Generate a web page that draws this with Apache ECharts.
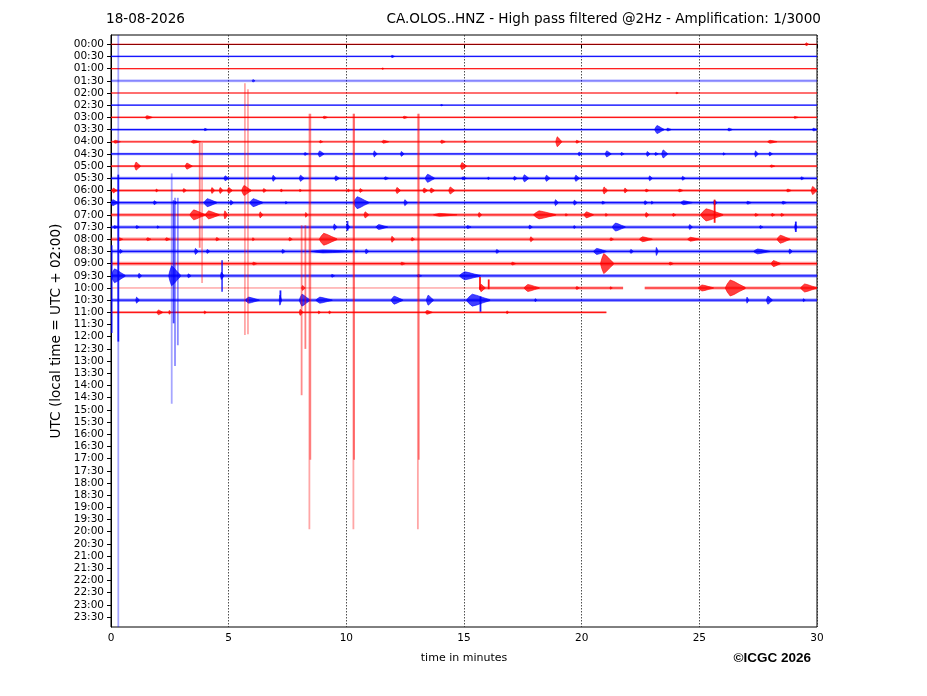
<!DOCTYPE html>
<html><head><meta charset="utf-8">
<script src="https://cdn.jsdelivr.net/npm/echarts@6/dist/echarts.min.js"></script>
<style>html,body{margin:0;padding:0;background:#fff}#c{width:927px;height:696px}</style>
</head><body><div id="c"></div>
<script>
// ---------------- DATA ----------------
const dateLabel = '18-08-2026';
const titleText = 'CA.OLOS..HNZ - High pass filtered @2Hz - Amplification: 1/3000';
const copyrightText = '©ICGC 2026';
const xAxisName = 'time in minutes';
const yAxisName = 'UTC (local time = UTC + 02:00)';
const xTicks = [0, 5, 10, 15, 20, 25, 30];
const rowLabels = ['00:00','00:30','01:00','01:30','02:00','02:30','03:00','03:30','04:00','04:30',
  '05:00','05:30','06:00','06:30','07:00','07:30','08:00','08:30','09:00','09:30','10:00','10:30',
  '11:00','11:30','12:00','12:30','13:00','13:30','14:00','14:30','15:00','15:30','16:00','16:30',
  '17:00','17:30','18:00','18:30','19:00','19:30','20:00','20:30','21:00','21:30','22:00','22:30',
  '23:00','23:30'];
const rowIndex = rowLabels.map((l, i) => i);

// trace segments: [row, startMin, endMin, noise half-amplitude (rows), opacity]
const traceSegments = [
  [0,0,30,0.06,0.55],[1,0,30,0.06,0.85],[2,0,30,0.06,0.8],[3,0,30,0.12,0.45],
  [4,0,30,0.06,0.8],[5,0,30,0.06,0.85],[6,0,30,0.08,0.85],[7,0,30,0.08,0.9],
  [8,0,30,0.1,0.8],[9,0,30,0.1,0.9],[10,0,30,0.09,0.85],[11,0,30,0.12,0.9],
  [12,0,30,0.12,0.85],[13,0,30,0.14,0.9],[14,0,30,0.13,0.85],[15,0,30,0.13,0.9],
  [16,0,30,0.14,0.85],[17,0,30,0.15,0.9],[18,0,30,0.15,0.9],[19,0,30,0.14,0.9],
  [20,0,15.66,0.05,0.35],[20,15.66,21.76,0.12,0.9],[20,22.68,30,0.12,0.9],
  [21,0,30,0.14,0.9],[22,0,21.05,0.1,0.85]
];

// wave bursts: [row, startMin, endMin, half-amplitude (rows)]
const bursts = [
  [0,29.5,29.65,0.12],[1,11.9,12.05,0.1],[2,11.5,11.6,0.06],[3,6.0,6.12,0.1],[4,24.0,24.1,0.06],[5,14.0,14.1,0.06],
  [6,1.45,1.75,0.14],[6,9.0,9.2,0.1],[6,12.4,12.6,0.1],[6,29.0,29.2,0.08],
  [7,3.95,4.1,0.1],[7,23.1,23.5,0.33],[7,23.6,23.8,0.12],[7,26.2,26.4,0.12],[7,29.8,30,0.12],
  [8,0.1,0.4,0.12],[8,3.4,3.8,0.12],[8,8.85,9.0,0.1],[8,11.5,11.8,0.12],[8,14.0,14.2,0.14],[8,15.0,15.1,0.1],
  [8,18.9,19.15,0.41],[8,19.75,19.9,0.12],[8,27.9,28.3,0.12],
  [9,8.2,8.35,0.12],[9,8.8,9.05,0.25],[9,11.15,11.3,0.25],[9,12.3,12.45,0.2],[9,19.85,20.0,0.16],
  [9,21.0,21.25,0.25],[9,21.65,21.8,0.12],[9,22.75,22.9,0.2],[9,23.1,23.25,0.12],[9,23.4,23.65,0.33],
  [9,26.0,26.1,0.1],[9,27.35,27.5,0.25],[9,27.95,28.1,0.16],
  [10,1.0,1.25,0.33],[10,3.15,3.45,0.25],[10,14.85,15.1,0.29],[10,28.0,28.2,0.1],
  [11,4.8,5.0,0.2],[11,6.85,7.0,0.25],[11,8.0,8.2,0.25],[11,9.5,9.7,0.2],[11,11.6,11.8,0.12],
  [11,13.35,13.75,0.33],[11,14.9,15.1,0.12],[11,16.0,16.1,0.1],[11,17.1,17.25,0.16],[11,17.5,17.75,0.29],
  [11,18.45,18.65,0.25],[11,19.7,19.9,0.25],[11,22.85,23.0,0.2],[11,24.25,24.4,0.16],[11,29.3,29.45,0.12],
  [12,0.05,0.25,0.2],[12,1.9,2.0,0.12],[12,3.05,3.2,0.16],[12,4.25,4.4,0.25],[12,4.6,4.75,0.25],
  [12,4.95,5.15,0.25],[12,5.55,5.95,0.41],[12,6.45,6.6,0.16],[12,7.2,7.3,0.12],[12,8.0,8.1,0.1],
  [12,10.05,10.15,0.12],[12,10.55,10.7,0.16],[12,12.1,12.3,0.25],[12,13.25,13.45,0.2],[12,13.55,13.75,0.2],
  [12,14.35,14.6,0.29],[12,20.9,21.1,0.29],[12,21.8,21.95,0.2],[12,22.7,22.85,0.12],[12,24.1,24.3,0.12],
  [12,28.7,28.9,0.12],[12,29.75,30,0.33],
  [13,0.0,0.3,0.25],[13,1.8,1.95,0.16],[13,2.7,2.8,0.12],[13,3.95,4.5,0.33],[13,5.05,5.2,0.2],
  [13,5.9,6.45,0.33],[13,7.4,7.5,0.1],[13,10.3,10.95,0.49],[13,12.45,12.6,0.25],[13,18.85,19.0,0.25],
  [13,19.65,19.8,0.2],[13,20.85,21.0,0.12],[13,22.65,22.8,0.16],[13,22.95,23.05,0.12],[13,24.2,24.7,0.16],
  [13,25.6,25.75,0.2],[13,27.0,27.2,0.12],[13,28.5,28.7,0.12],
  [14,3.35,4.0,0.41],[14,4.0,4.6,0.33],[14,4.8,4.95,0.33],[14,6.3,6.45,0.25],[14,8.25,8.35,0.2],
  [14,10.75,10.95,0.25],[14,13.7,14.7,0.12],[14,15.6,15.75,0.2],[14,17.95,18.9,0.33],[14,19.3,19.4,0.1],
  [14,20.1,20.5,0.25],[14,21.0,21.1,0.12],[14,22.7,22.85,0.2],[14,23.85,24.0,0.12],[14,25.05,26.0,0.5],
  [14,27.35,27.5,0.12],[14,28.05,28.2,0.12],[14,28.45,28.6,0.12],
  [15,0.1,0.3,0.12],[15,1.05,1.2,0.12],[15,1.95,2.05,0.1],[15,9.45,9.6,0.25],[15,10.0,10.15,0.25],
  [15,11.25,11.75,0.2],[15,15.1,15.3,0.12],[15,17.75,17.9,0.16],[15,19.65,19.75,0.12],[15,21.3,21.85,0.33],
  [15,24.55,24.7,0.2],[15,27.55,27.7,0.12],[15,29.05,29.15,0.25],
  [16,0.3,0.5,0.12],[16,1.5,1.7,0.12],[16,2.3,2.5,0.12],[16,4.45,4.6,0.14],[16,6.0,6.1,0.12],
  [16,7.55,7.7,0.14],[16,8.85,9.6,0.49],[16,11.9,12.05,0.25],[16,12.75,12.9,0.14],[16,17.8,17.95,0.2],
  [16,21.2,21.35,0.12],[16,22.45,23.0,0.2],[16,24.5,25.0,0.16],[16,28.3,28.85,0.33],
  [17,0.35,0.5,0.16],[17,3.55,3.7,0.25],[17,4.05,4.2,0.16],[17,7.25,7.4,0.16],[17,8.5,10.5,0.12],
  [17,10.8,10.95,0.2],[17,16.35,16.5,0.16],[17,20.5,21.05,0.25],[17,22.05,22.2,0.16],[17,23.15,23.25,0.33],
  [17,27.3,28.0,0.2],[17,28.8,28.95,0.2],
  [18,6.0,6.2,0.12],[18,12.3,12.5,0.12],[18,17.0,17.2,0.12],[18,20.8,21.35,0.82],[18,23.7,23.9,0.12],
  [18,28.05,28.45,0.25],
  [19,0.0,0.6,0.57],[19,1.15,1.3,0.2],[19,2.45,2.95,0.82],[19,3.25,3.4,0.16],[19,4.65,4.8,0.3],
  [19,9.35,9.5,0.12],[19,13.0,13.2,0.1],[19,14.8,15.7,0.33],
  [20,8.1,8.25,0.2],[20,15.66,15.9,0.3],[20,17.55,18.2,0.29],[20,19.75,19.9,0.12],[20,21.2,21.3,0.1],
  [20,24.95,25.6,0.25],[20,26.1,26.95,0.66],[20,29.3,30,0.33],
  [21,1.05,1.2,0.25],[21,5.7,6.3,0.25],[21,7.15,7.25,0.41],[21,8.0,8.45,0.49],[21,8.7,9.4,0.25],
  [21,11.9,12.4,0.33],[21,13.4,13.7,0.41],[21,15.1,16.1,0.49],[21,18.0,18.1,0.12],[21,27.0,27.1,0.25],
  [21,27.85,28.1,0.33],[21,29.4,29.5,0.12],
  [22,1.95,2.2,0.2],[22,2.45,2.55,0.16],[22,3.95,4.05,0.12],[22,8.0,8.15,0.25],[22,8.8,8.9,0.12],
  [22,9.25,9.35,0.12],[22,13.35,13.65,0.16],[22,16.8,16.9,0.12]
];

// large single excursions: [row, minute, extent above (rows), extent below (rows), opacity]
const spikes = [
  [19,0.31,20.5,29,0.35],[19,0.31,8.3,5.4,0.85],[19,0.03,2.5,4.7,0.75],
  [19,2.58,8.4,10.5,0.35],[19,2.66,6.2,3.9,0.7],[19,2.72,6.4,7.4,0.45],[19,2.84,6.4,5.7,0.45],
  [19,4.72,1.28,1.3,0.7],
  [12,5.69,8.8,11.85,0.35],[12,5.82,8.3,11.8,0.35],
  [14,3.77,5.9,2.7,0.5],[14,3.87,5.9,5.6,0.35],
  [22,8.10,7.15,6.8,0.45],[22,8.26,7.15,3.0,0.5],
  [22,8.43,16.3,17.8,0.35],[22,8.47,16.3,12.1,0.45],
  [22,10.30,16.3,17.8,0.35],[22,10.33,16.3,12.1,0.5],
  [22,13.04,16.3,17.8,0.35],[22,13.08,16.3,12.1,0.45],
  [14,25.65,1.25,0.65,0.9],[20,15.68,0.9,0.15,0.9],[20,16.05,0.7,0.1,0.9],
  [21,7.2,0.8,0.1,0.9],[21,15.7,0.3,0.95,0.9],[15,29.1,0.45,0.4,0.9],[15,10.05,0.5,0.3,0.8]
];

// ---------------- RENDER ----------------
const RED = '#ff0000', BLUE = '#0000ff';
const Y_MIN = -0.76, Y_MAX = 47.82;
const colorOf = r => (Math.round(r) % 2 === 0 ? RED : BLUE);
const clampY = v => Math.max(Y_MIN, Math.min(Y_MAX, v));

function renderTrace(params, api) {
  const row = api.value(0), t0 = api.value(1), t1 = api.value(2), nz = api.value(3), op = api.value(4);
  const p0 = api.coord([t0, row]), p1 = api.coord([t1, row]);
  const h = Math.max(1, Math.abs(api.size([0, nz])[1]) * 2);
  const c = colorOf(row);
  return { type: 'group', children: [
    { type: 'rect', shape: { x: p0[0], y: p0[1] - h / 2, width: p1[0] - p0[0], height: h },
      style: { fill: c, opacity: op * 0.45 } },
    { type: 'line', shape: { x1: p0[0], y1: p0[1], x2: p1[0], y2: p1[1] },
      style: { stroke: c, lineWidth: 1.2, opacity: op } }
  ]};
}

// spindle-shaped outline used for every burst (fraction of duration, fraction of amplitude)
const envelope = [[0,0],[0.1,0.5],[0.25,1],[0.45,0.8],[0.7,0.45],[1,0.08]];
function renderBurst(params, api) {
  const row = api.value(0), t0 = api.value(1), t1 = api.value(2), amp = api.value(3);
  const d = t1 - t0;
  const top = envelope.map(([f, a]) => api.coord([t0 + f * d, row - a * amp]));
  const bot = envelope.slice().reverse().map(([f, a]) => api.coord([t0 + f * d, row + a * amp]));
  const c = colorOf(row);
  return { type: 'polygon', shape: { points: top.concat(bot) },
    style: { fill: c, stroke: c, lineWidth: 0.8, opacity: 0.75 } };
}

function renderSpike(params, api) {
  const row = api.value(0), m = api.value(1), up = api.value(2), dn = api.value(3), op = api.value(4);
  const a = api.coord([m, clampY(row - up)]), b = api.coord([m, clampY(row + dn)]);
  return { type: 'line', shape: { x1: a[0], y1: a[1], x2: b[0], y2: b[1] },
    style: { stroke: colorOf(row), lineWidth: 1.8, opacity: op } };
}

const chart = echarts.init(document.getElementById('c'), null, { renderer: 'canvas' });
const FONT = 'DejaVu Sans';
chart.setOption({
  animation: false,
  backgroundColor: '#fff',
  title: [
    { text: dateLabel, left: 106, top: 12, padding: 0,
      textStyle: { fontFamily: FONT, fontSize: 13.6, fontWeight: 'normal', color: '#000' } },
    { text: titleText, right: 106, top: 12, padding: 0,
      textStyle: { fontFamily: FONT, fontSize: 13.6, fontWeight: 'normal', color: '#000' } }
  ],
  graphic: [
    { type: 'text', right: 116, top: 651,
      style: { text: copyrightText, font: 'bold 13.5px "Liberation Sans", Arial', fill: '#000' } }
  ],
  grid: { left: 111, right: 110, top: 35, bottom: 69, show: true, borderColor: '#000', borderWidth: 1 },
  xAxis: {
    type: 'value', min: xTicks[0], max: xTicks[xTicks.length - 1], interval: 5,
    name: xAxisName, nameLocation: 'middle', nameGap: 26,
    nameTextStyle: { fontFamily: FONT, fontSize: 11, color: '#000' },
    axisLine: { show: true, lineStyle: { color: '#000', width: 1 } },
    axisTick: { show: true, length: 4, lineStyle: { color: '#000' } },
    axisLabel: { fontFamily: FONT, fontSize: 10.5, color: '#000', margin: 6 },
    splitLine: { show: true, lineStyle: { color: '#222', width: 0.8, type: [1.5, 1.5] } }
  },
  yAxis: {
    type: 'value', inverse: true, min: Y_MIN, max: Y_MAX,
    name: yAxisName, nameLocation: 'middle', nameGap: 48, nameRotate: 90, nameMoveOverlap: false,
    nameTextStyle: { fontFamily: FONT, fontSize: 13.6, color: '#000' },
    axisLine: { show: true, lineStyle: { color: '#000', width: 1 } },
    axisTick: { show: true, length: 4, customValues: rowIndex, lineStyle: { color: '#000' } },
    axisLabel: { fontFamily: FONT, fontSize: 10.5, color: '#000', margin: 7, customValues: rowIndex,
      formatter: v => rowLabels[Math.round(v)] },
    splitLine: { show: false }
  },
  series: [
    { type: 'custom', name: 'trace', renderItem: renderTrace, data: traceSegments, encode: { x: [1, 2], y: 0 }, clip: true, silent: true },
    { type: 'custom', name: 'burst', renderItem: renderBurst, data: bursts, encode: { x: [1, 2], y: 0 }, clip: true, silent: true },
    { type: 'custom', name: 'spike', renderItem: renderSpike, data: spikes, encode: { x: 1, y: 0 }, clip: true, silent: true }
  ]
});
</script>
</body></html>
